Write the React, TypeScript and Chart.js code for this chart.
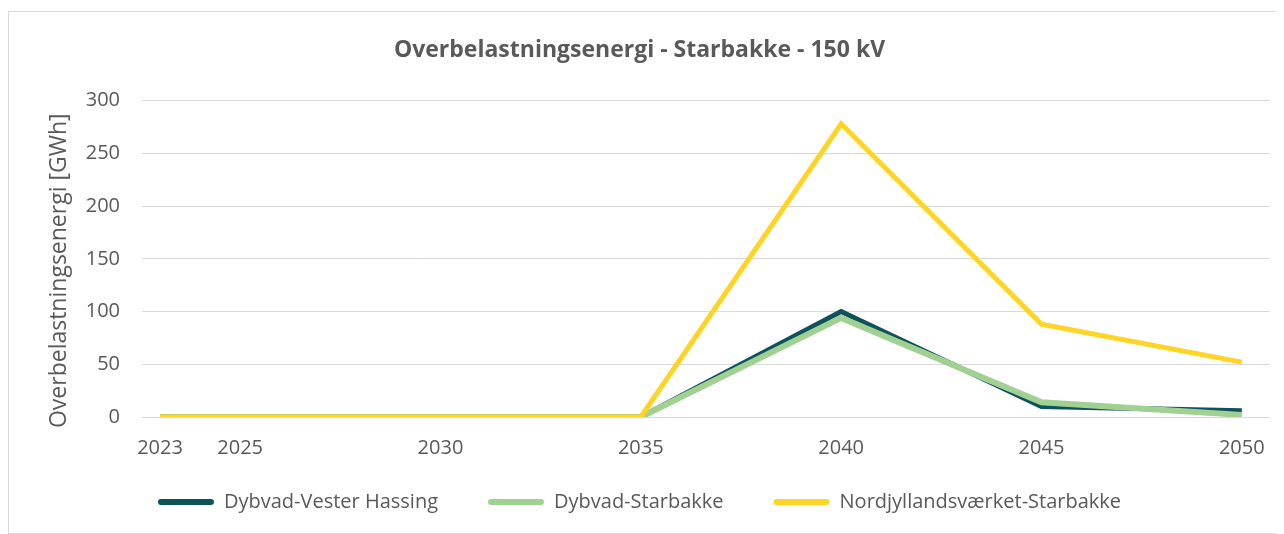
import React, { useEffect, useRef } from "react";
import { Chart, registerables } from "chart.js";

Chart.register(...registerables);

const years = [2023, 2025, 2030, 2035, 2040, 2045, 2050];
const tickYears = [2023, 2025, 2030, 2035, 2040, 2045, 2050];
const dybvadVesterHassing = [0, 0, 0, 0, 100, 10, 6];
const dybvadStarbakke = [0, 0, 0, 0, 94, 14, 2];
const nordjyllandsvaerketStarbakke = [0, 0, 0, 0, 278, 88, 52];
const seriesNames = ["Dybvad-Vester Hassing", "Dybvad-Starbakke", "Nordjyllandsværket-Starbakke"];
const yTicks = [0, 50, 100, 150, 200, 250, 300];

const FONT = "'Open Sans', sans-serif";
const TEXT = "#595959";

const legendShift = {
  id: "legendShift",
  afterLayout(chart: any) {
    const lg = chart.legend;
    if (lg) {
      lg.top -= 41;
      lg.bottom = chart.height;
      lg.height = lg.bottom - lg.top;
    }
  },
};

export default function App() {
  const ref = useRef<HTMLCanvasElement>(null);
  useEffect(() => {
    document.body.style.overflow = "hidden";
    const toPts = (arr: number[]) => years.map((y, i) => ({ x: y, y: arr[i] }));
    const chart = new Chart(ref.current!, {
      type: "line",
      data: {
        datasets: [
          { label: seriesNames[0], data: toPts(dybvadVesterHassing), borderColor: "#0E525C", backgroundColor: "#0E525C", borderWidth: 5, pointRadius: 0, order: 2 },
          { label: seriesNames[1], data: toPts(dybvadStarbakke), borderColor: "#A0D192", backgroundColor: "#A0D192", borderWidth: 6, pointRadius: 0, order: 1 },
          { label: seriesNames[2], data: toPts(nordjyllandsvaerketStarbakke), borderColor: "#FFD424", backgroundColor: "#FFD424", borderWidth: 5, pointRadius: 0, order: 0 },
        ],
      },
      plugins: [legendShift],
      options: {
        animation: false,
        responsive: false,
        maintainAspectRatio: false,
        layout: { padding: { left: 0, right: 14, top: 0, bottom: 10 } },
        plugins: {
          title: {
            display: true,
            text: "Overbelastningsenergi - Starbakke - 150 kV",
            color: TEXT,
            font: { family: FONT, size: 23, weight: "bold" },
            padding: { top: 25, bottom: 36 },
          },
          legend: {
            position: "bottom",
            maxHeight: 40,
            labels: {
              color: TEXT,
              font: { family: FONT, size: 20 },
              boxWidth: 56,
              boxHeight: 6,
              useBorderRadius: true,
              borderRadius: 3,
              padding: 50,
              generateLabels: (chart: any) =>
                chart.data.datasets.map((d: any, i: number) => ({
                  text: d.label,
                  fillStyle: d.borderColor,
                  strokeStyle: d.borderColor,
                  lineWidth: 0,
                  datasetIndex: i,
                  fontColor: TEXT,
                  borderRadius: 3,
                })),
            },
          },
          tooltip: { enabled: false },
        },
        scales: {
          x: {
            type: "linear",
            min: 2022.55,
            max: 2050.7,
            afterBuildTicks: (scale: any) => {
              scale.ticks = tickYears.map((v) => ({ value: v }));
            },
            afterFit: (scale: any) => {
              scale.height = 66;
            },
            grid: { display: false, drawTicks: false },
            border: { display: false },
            ticks: {
              color: TEXT,
              font: { family: FONT, size: 20 },
              padding: 19,
              maxRotation: 0,
              autoSkip: false,
              callback: (v: any) => String(v),
            },
          },
          y: {
            min: 0,
            max: 300,
            afterBuildTicks: (scale: any) => {
              scale.ticks = yTicks.map((v) => ({ value: v }));
            },
            afterFit: (scale: any) => {
              scale.width = 133;
            },
            grid: { color: "#D9D9D9", lineWidth: 1, drawTicks: false },
            border: { display: false },
            ticks: {
              color: TEXT,
              font: { family: FONT, size: 20 },
              padding: 22,
            },
            title: {
              display: true,
              text: "Overbelastningsenergi [GWh]    ",
              color: TEXT,
              font: { family: FONT, size: 23 },
              padding: { top: 37, bottom: 0 },
            },
          },
        },
      },
    });
    return () => chart.destroy();
  }, []);
  return (
    <div style={{ width: 1276, height: 526, overflow: "hidden", paddingTop: 3 }}>
      <div style={{ width: 1300, height: 523, border: "1px solid #D9D9D9", boxSizing: "border-box" }}>
        <canvas ref={ref} width={1275} height={521} style={{ display: "block" }} />
      </div>
    </div>
  );
}
